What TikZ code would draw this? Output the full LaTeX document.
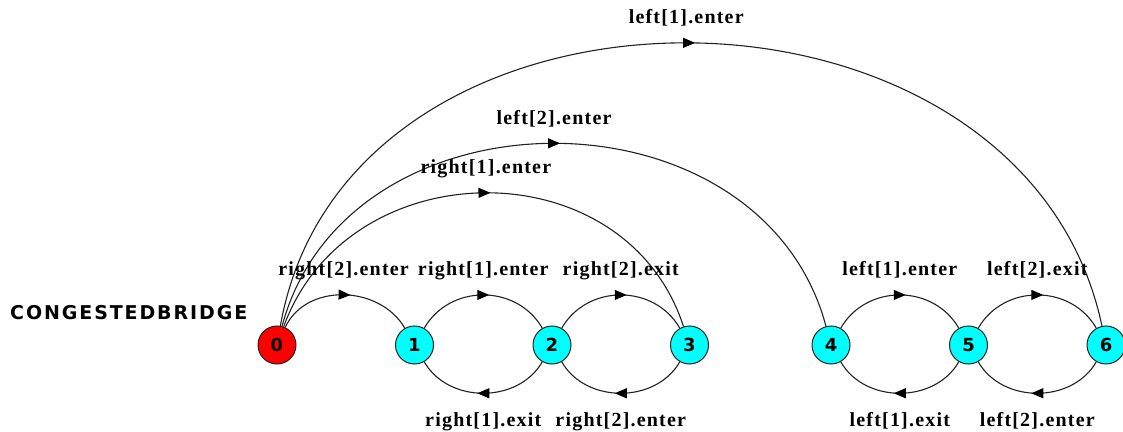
\documentclass[tikz,border=0pt]{standalone}
\usepackage{fontspec}
\usetikzlibrary{arrows.meta,decorations.markings}
\newfontfamily\labfont{Liberation Serif}[LetterSpace=6]
\newfontfamily\titlefont{DejaVu Sans}[LetterSpace=10]
\newfontfamily\numfont{DejaVu Sans}
\definecolor{stateedge}{HTML}{222222}
\definecolor{transline}{HTML}{222222}
\definecolor{statecyan}{HTML}{00FFFF}
\definecolor{statered}{HTML}{FF0000}
\tikzset{
  stnode/.style={circle, draw=stateedge, line width=1pt, minimum size=38pt,
    inner sep=0pt, fill=statecyan, font=\numfont\bfseries\fontsize{18}{18}\selectfont},
  startnode/.style={stnode, fill=statered},
  trans/.style={draw=transline, line width=1.1pt, postaction={decorate},
    decoration={markings, mark=at position 0.5 with
      {\arrow[xshift=6pt, black]{Triangle[length=12pt,width=10pt]}}}},
  lab/.style={font=\labfont\bfseries\fontsize{20}{20}\selectfont, inner sep=0pt},
  labup/.style={lab, anchor=base, yshift=19pt},
  labdown/.style={lab, anchor=base, yshift=-33pt},
}
\begin{document}
\begin{tikzpicture}[x=1pt,y=1pt]
\useasboundingbox (0,0) rectangle (1123,431);

% process name
\node[anchor=base west, inner sep=0pt, font=\titlefont\bfseries\fontsize{19}{19}\selectfont]
  (title) at (10,112) {CONGESTEDBRIDGE};

% states
\node[startnode] (s0) at (277,86) {0};
\node[stnode] (s1) at (414.5,86) {1};
\node[stnode] (s2) at (552,86) {2};
\node[stnode] (s3) at (689.5,86) {3};
\node[stnode] (s4) at (831,86) {4};
\node[stnode] (s5) at (968.5,86) {5};
\node[stnode] (s6) at (1106,86) {6};

% long transitions out of the initial state
\draw[trans] (s0) to[out=80,in=102,looseness=1.2] node[pos=0.5,labup] {left[1].enter} (s6);
\draw[trans] (s0) to[out=75,in=105,looseness=1.19] node[pos=0.5,labup] {left[2].enter} (s4);
\draw[trans] (s0) to[out=70,in=108,looseness=1.21] node[pos=0.5,labup] {right[1].enter} (s3);
\draw[trans] (s0) to[out=65,in=120,looseness=1.06] node[pos=0.5,labup] {right[2].enter} (s1);

% right-hand side of the bridge
\draw[trans] (s1) to[out=60,in=120,looseness=1.11] node[pos=0.5,labup] {right[1].enter} (s2);
\draw[trans] (s2) to[out=60,in=120,looseness=1.11] node[pos=0.5,labup] {right[2].exit} (s3);
\draw[trans] (s2) to[out=-120,in=-60,looseness=1.05] node[pos=0.5,labdown] {right[1].exit} (s1);
\draw[trans] (s3) to[out=-120,in=-60,looseness=1.05] node[pos=0.5,labdown] {right[2].enter} (s2);

% left-hand side of the bridge
\draw[trans] (s4) to[out=60,in=120,looseness=1.11] node[pos=0.5,labup] {left[1].enter} (s5);
\draw[trans] (s5) to[out=60,in=120,looseness=1.11] node[pos=0.5,labup] {left[2].exit} (s6);
\draw[trans] (s5) to[out=-120,in=-60,looseness=1.05] node[pos=0.5,labdown] {left[1].exit} (s4);
\draw[trans] (s6) to[out=-120,in=-60,looseness=1.05] node[pos=0.5,labdown] {left[2].enter} (s5);
\end{tikzpicture}
\end{document}
